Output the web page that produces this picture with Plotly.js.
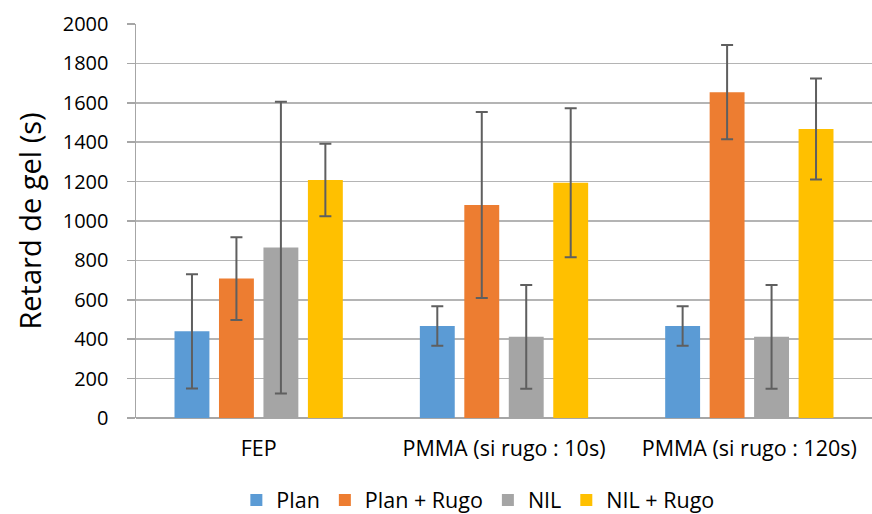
<!DOCTYPE html>
<html>
<head>
<meta charset="utf-8">
<script src="https://cdn.plot.ly/plotly-3.0.1.min.js"></script>
<style>html,body{margin:0;padding:0;background:#fff;}#chart{width:872px;height:514px;}</style>
</head>
<body>
<div id="chart"></div>
<script>
const categories = ["FEP", "PMMA (si rugo : 10s)", "PMMA (si rugo : 120s)"];
const seriesNames = ["Plan", "Plan + Rugo", "NIL", "NIL + Rugo"];
const plan = [440, 467, 467];
const planErr = [290, 100, 100];
const planRugo = [708, 1081, 1654];
const planRugoErr = [210, 472, 239];
const nil = [865, 412, 412];
const nilErr = [740, 263, 263];
const nilRugo = [1208, 1194, 1467];
const nilRugoErr = [184, 378, 256];
const colors = ["#5B9BD5", "#ED7D31", "#A5A5A5", "#FFC000"];

const values = [plan, planRugo, nil, nilRugo];
const errs = [planErr, planRugoErr, nilErr, nilRugoErr];
const font = "'Open Sans', sans-serif";

const traces = values.map((v, i) => ({
  type: "bar",
  name: seriesNames[i],
  x: categories,
  y: v,
  marker: {color: colors[i], line: {width: 0}},
  error_y: {type: "data", array: errs[i], visible: true, color: "#5F5F5F", thickness: 2, width: 6}
}));

const layout = {
  width: 872, height: 514,
  margin: {l: 136, r: 0, t: 24, b: 96, autoexpand: false},
  paper_bgcolor: "#fff", plot_bgcolor: "#fff",
  barmode: "group",
  bargap: 0.275,
  bargroupgap: 0.215,
  font: {family: font, color: "#000"},
  xaxis: {
    type: "category",
    automargin: false,
    tickfont: {size: 21.5, family: font, color: "#000"},
    showgrid: false,
    showline: false,
    ticks: "",
    ticklabelstandoff: 15,
    zeroline: false
  },
  yaxis: {
    automargin: false,
    range: [0, 2000],
    dtick: 200,
    tickfont: {size: 20, family: font, color: "#000"},
    showgrid: true,
    gridcolor: "#B4B4B4",
    gridwidth: 1.5,
    showline: true,
    linecolor: "#A6A6A6",
    linewidth: 1.5,
    ticks: "outside",
    ticklen: 8,
    tickwidth: 1.5,
    tickcolor: "#A6A6A6",
    ticklabelstandoff: 14,
    zeroline: true,
    zerolinecolor: "#A6A6A6",
    zerolinewidth: 1.5,
    title: {text: "Retard de gel (s)", font: {size: 29, family: font, color: "#000"}, standoff: 12}
  },
  showlegend: true,
  legend: {
    orientation: "h",
    xref: "container", yref: "container",
    x: 0.548, xanchor: "center",
    y: 0.027, yanchor: "middle",
    font: {size: 21.5, family: font, color: "#000"},
    itemwidth: 30,
    traceorder: "normal"
  }
};

Plotly.newPlot("chart", traces, layout, {displayModeBar: false, staticPlot: true});
</script>
</body>
</html>
